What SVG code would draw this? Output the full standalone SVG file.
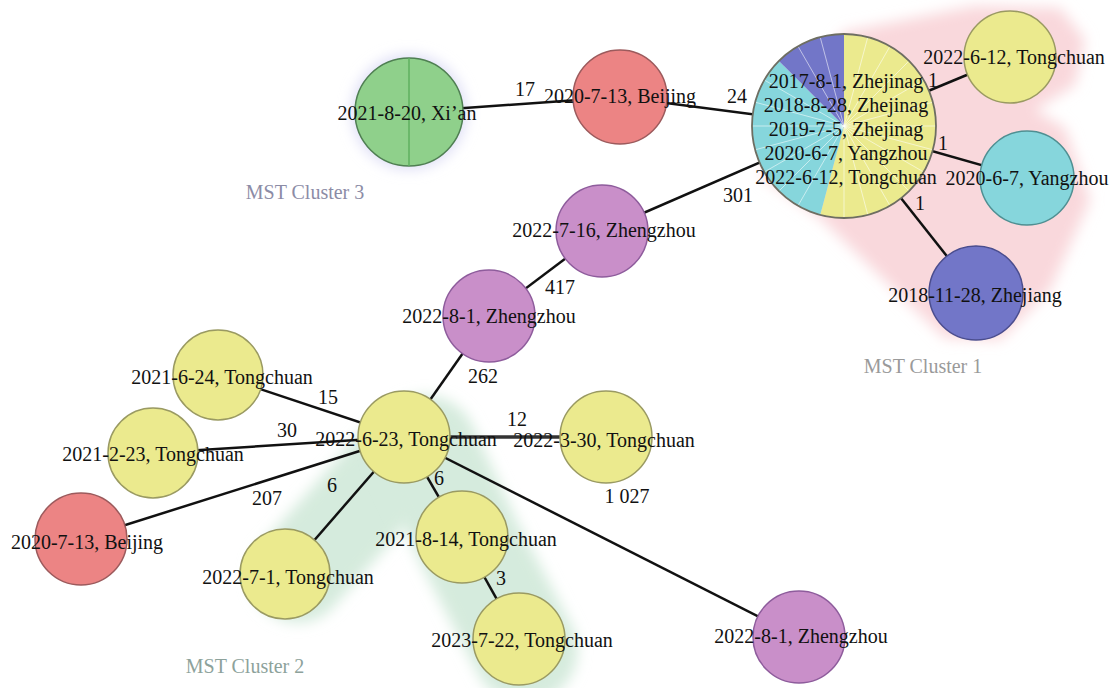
<svg xmlns="http://www.w3.org/2000/svg" width="1115" height="688" viewBox="0 0 1115 688">
<style>
text{font-family:"Liberation Serif","Times New Roman",serif;font-size:20px;fill:#111;text-anchor:middle}
.cl{font-size:20px}
.edge{stroke:#111;stroke-width:2.5;fill:none}
.n{stroke-width:1.5}
.y{fill:#ebea8e;stroke:#9a9a62}
.p{fill:#c98fc9;stroke:#8e5c9c}
.r{fill:#ec8484;stroke:#9c5a5c}
.g{fill:#8fd08b;stroke:#4f7f52}
.c{fill:#86d6dc;stroke:#4f8f92}
.b{fill:#7276c8;stroke:#4a4d8e}
.spk{stroke:#ffffff;stroke-opacity:0.55;stroke-width:1;fill:none}
</style>
<defs>
<filter id="blur" filterUnits="userSpaceOnUse" x="0" y="0" width="1115" height="688"><feGaussianBlur stdDeviation="7"/></filter>
</defs>
<rect width="1115" height="688" fill="#ffffff"/>
<g id="cluster-shadows">
<polygon points="843,32 975,6 1060,8 1085,40 1075,85 1035,110 1065,128 1090,200 1050,290 1000,340 945,338 905,300 820,218 760,175" fill="#f9d8dc" filter="url(#blur)"/>
<path d="M402,458 L298,575" stroke="#d5ebdd" stroke-width="95" stroke-linecap="round" fill="none" filter="url(#blur)"/>
<path d="M425,448 L470,545 L525,650" stroke="#d5ebdd" stroke-width="105" stroke-linecap="round" stroke-linejoin="round" fill="none" filter="url(#blur)"/>
<circle cx="409" cy="112" r="57" fill="#dcdcf5" filter="url(#blur)"/>
</g>
<text class="cl" x="305" y="199" style="fill:#8c8ca6">MST Cluster 3</text>
<text class="cl" x="923" y="373" style="fill:#9a9a9a">MST Cluster 1</text>
<text class="cl" x="245" y="673" style="fill:#8da29b">MST Cluster 2</text>
<g id="connectors">
<line class="edge" x1="409" y1="112" x2="620" y2="97"/>
<line class="edge" x1="620" y1="97" x2="844" y2="126"/>
<line class="edge" x1="844" y1="126" x2="602" y2="231"/>
<line class="edge" x1="602" y1="231" x2="489" y2="316"/>
<line class="edge" x1="489" y1="316" x2="404" y2="437"/>
<line class="edge" x1="404" y1="437" x2="218" y2="375"/>
<line class="edge" x1="404" y1="437" x2="153" y2="453"/>
<line class="edge" x1="404" y1="437" x2="81" y2="539"/>
<line class="edge" x1="404" y1="437" x2="285" y2="574"/>
<line class="edge" x1="404" y1="437" x2="462" y2="537"/>
<line class="edge" x1="462" y1="537" x2="519" y2="639"/>
<line class="edge" x1="404" y1="437" x2="606" y2="437" style="stroke:#333;stroke-width:3.5"/>
<line class="edge" x1="404" y1="437" x2="799" y2="637"/>
<line class="edge" x1="844" y1="126" x2="1010" y2="57"/>
<line class="edge" x1="844" y1="126" x2="1027" y2="178"/>
<line class="edge" x1="844" y1="126" x2="976" y2="293"/>
</g>
<g id="node-xian">
<circle class="n g" cx="409" cy="112" r="54"/>
<line x1="409" y1="58" x2="409" y2="166" stroke="#5fb05f" stroke-width="1.5"/>
<text x="407" y="120">2021-8-20, Xi’an</text>
</g>
<g id="node-beijing-2020-7-13-top">
<circle class="n r" cx="620" cy="97" r="47"/>
<text x="620" y="103">2020-7-13, Beijing</text>
</g>
<g id="node-cluster1-center">
<path d="M844,126 L844,34 A92,92 0 1 1 820.2,214.9 Z" fill="#ebea8e"/>
<path d="M844,126 L820.2,214.9 A92,92 0 0 1 778.9,60.9 Z" fill="#86d6dc"/>
<path d="M844,126 L778.9,60.9 A92,92 0 0 1 844,34 Z" fill="#7276c8"/>
<path class="spk" d="M844,126L867.8,37.1M844,126L890,46.3M844,126L909.1,60.9M844,126L923.7,80M844,126L932.9,102.2M844,126L936,126M844,126L932.9,149.8M844,126L923.7,172M844,126L909.1,191.1M844,126L890,205.7M844,126L867.8,214.9M844,126L844,218M844,126L798,205.7M844,126L778.9,191.1M844,126L764.3,172M844,126L755.1,149.8M844,126L752,126M844,126L755.1,102.2M844,126L764.3,80M844,126L798,46.3M844,126L820.2,37.1"/>
<circle cx="844" cy="126" r="92" fill="none" stroke="#6e6e62" stroke-width="1.8"/>
<text x="846" y="88">2017-8-1, Zhejinag</text>
<text x="846" y="112">2018-8-28, Zhejinag</text>
<text x="846" y="136">2019-7-5, Zhejinag</text>
<text x="846" y="160">2020-6-7, Yangzhou</text>
<text x="846" y="184">2022-6-12, Tongchuan</text>
</g>
<g id="node-tongchuan-2022-6-12">
<circle class="n y" cx="1010" cy="57" r="46"/>
<text x="1014" y="64">2022-6-12, Tongchuan</text>
</g>
<g id="node-yangzhou-2020-6-7">
<circle class="n c" cx="1027" cy="178" r="47"/>
<text x="1027" y="185">2020-6-7, Yangzhou</text>
</g>
<g id="node-zhejiang-2018-11-28">
<circle class="n b" cx="976" cy="293" r="47"/>
<text x="975" y="302">2018-11-28, Zhejiang</text>
</g>
<g id="node-zhengzhou-2022-7-16">
<circle class="n p" cx="602" cy="231" r="46"/>
<text x="604" y="237">2022-7-16, Zhengzhou</text>
</g>
<g id="node-zhengzhou-2022-8-1-a">
<circle class="n p" cx="489" cy="316" r="46"/>
<text x="489" y="323">2022-8-1, Zhengzhou</text>
</g>
<g id="node-tongchuan-2021-6-24">
<circle class="n y" cx="218" cy="375" r="45"/>
<text x="222" y="384">2021-6-24, Tongchuan</text>
</g>
<g id="node-tongchuan-2021-2-23">
<circle class="n y" cx="153" cy="453" r="45"/>
<text x="153" y="461">2021-2-23, Tongchuan</text>
</g>
<g id="node-beijing-2020-7-13-bottom">
<circle class="n r" cx="81" cy="539" r="46"/>
<text x="87" y="549">2020-7-13, Beijing</text>
</g>
<g id="node-tongchuan-2022-7-1">
<circle class="n y" cx="285" cy="574" r="45"/>
<text x="288" y="584">2022-7-1, Tongchuan</text>
</g>
<g id="node-tongchuan-2021-8-14">
<circle class="n y" cx="462" cy="537" r="46"/>
<text x="466" y="546">2021-8-14, Tongchuan</text>
</g>
<g id="node-tongchuan-2023-7-22">
<circle class="n y" cx="519" cy="639" r="46"/>
<text x="522" y="647">2023-7-22, Tongchuan</text>
</g>
<g id="node-tongchuan-2022-3-30">
<circle class="n y" cx="606" cy="437" r="46"/>
<text x="604" y="447">2022-3-30, Tongchuan</text>
</g>
<g id="node-zhengzhou-2022-8-1-b">
<circle class="n p" cx="799" cy="637" r="46"/>
<text x="801" y="643">2022-8-1, Zhengzhou</text>
</g>
<g id="node-tongchuan-2022-6-23">
<circle class="n y" cx="404" cy="437" r="46"/>
<text x="406" y="446">2022-6-23, Tongchuan</text>
</g>
<g id="edge-labels">
<text x="525" y="96">17</text>
<text x="737" y="103">24</text>
<text x="738" y="202">301</text>
<text x="560" y="294">417</text>
<text x="483" y="383">262</text>
<text x="328" y="404">15</text>
<text x="287" y="437">30</text>
<text x="267" y="505">207</text>
<text x="332" y="492">6</text>
<text x="439" y="485">6</text>
<text x="501" y="585">3</text>
<text x="517" y="426">12</text>
<text x="627" y="503">1 027</text>
<text x="933" y="87">1</text>
<text x="943" y="150">1</text>
<text x="920" y="210">1</text>
</g>
</svg>
